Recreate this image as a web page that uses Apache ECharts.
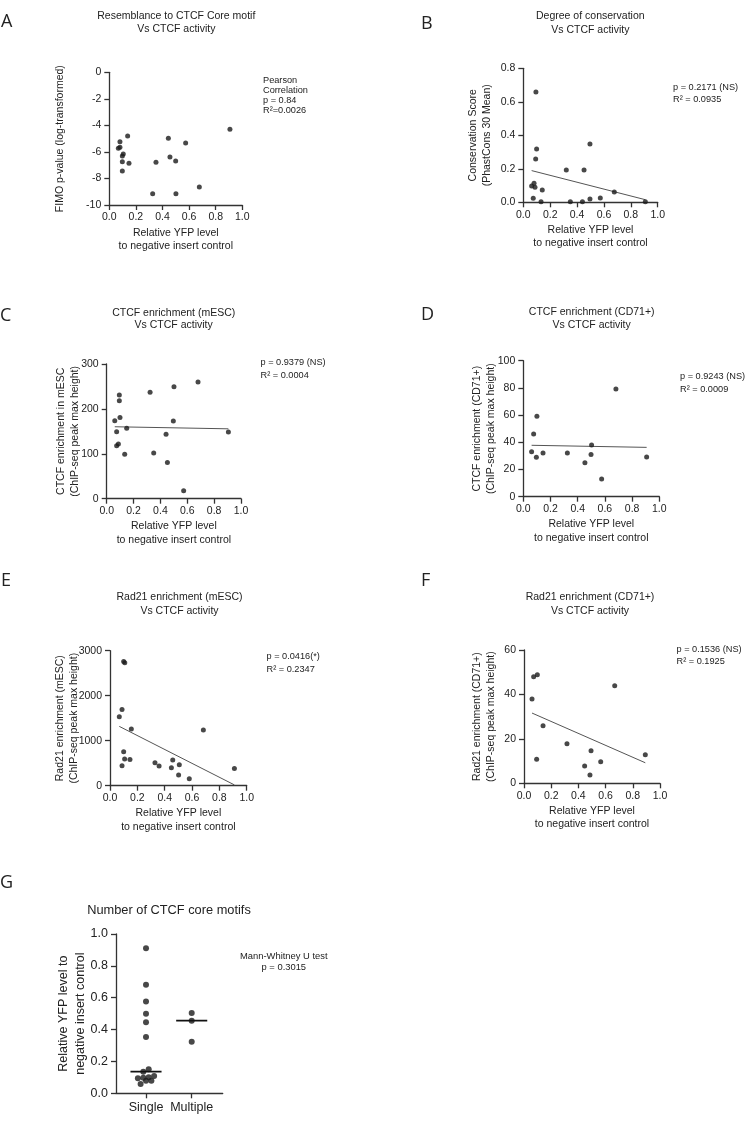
<!DOCTYPE html>
<html><head><meta charset="utf-8">
<script src="https://cdn.jsdelivr.net/npm/echarts@6/dist/echarts.min.js"></script>
<style>html,body{margin:0;padding:0;background:#fff}#c{width:753px;height:1126px}</style>
</head><body><div id="c"></div>
<script>
// ---------- data ----------
const xA = [0.068,0.080,0.080,0.105,0.098,0.098,0.098,0.138,0.148,0.326,0.351,0.444,0.456,0.499,0.501,0.574,0.677,0.907];
const yA = [-5.73,-5.23,-5.65,-6.16,-6.31,-6.74,-7.44,-4.80,-6.86,-9.15,-6.78,-4.97,-6.38,-6.68,-9.15,-5.33,-8.64,-4.30];

const xB = [0.062,0.080,0.087,0.141,0.074,0.132,0.094,0.092,0.099,0.320,0.350,0.440,0.452,0.496,0.496,0.573,0.677,0.908];
const yB = [0.097,0.113,0.090,0.073,0.024,0.004,0.659,0.259,0.318,0.193,0.004,0.004,0.193,0.348,0.020,0.026,0.062,0.004];

const xC = [0.094,0.094,0.099,0.060,0.149,0.074,0.087,0.074,0.134,0.323,0.350,0.442,0.452,0.501,0.496,0.573,0.680,0.906];
const yC = [231,218,181,173.7,156.8,149,121.8,118,98.8,236.9,101.7,143.3,80.9,249.5,173,17.8,259.9,148.5];

const xD = [0.061,0.076,0.096,0.100,0.145,0.324,0.453,0.498,0.502,0.576,0.681,0.907];
const yD = [33.1,46.1,29.0,59.1,32.1,32.1,25.0,31.1,38.0,13.0,79.2,29.2];

const xE = [0.068,0.088,0.100,0.108,0.088,0.100,0.107,0.146,0.156,0.329,0.359,0.449,0.459,0.502,0.507,0.580,0.683,0.910];
const yE = [1533,1696,2760,2730,444,756,593,585,1259,511,437,400,570,237,467,156,1237,385];

const xF = [0.059,0.071,0.098,0.093,0.140,0.316,0.446,0.485,0.493,0.564,0.667,0.892];
const yF = [37.95,48.0,48.9,10.8,25.95,17.85,7.8,3.75,14.7,9.75,43.95,12.9];

const gCategories = ['Single', 'Multiple'];
const gSingle = [0.910,0.682,0.577,0.500,0.446,0.354,0.151,0.136,0.109,0.100,0.098,0.094,0.079,0.079,0.058];
const gMultiple = [0.504,0.456,0.324];

const xTitle = 'Relative YFP level\nto negative insert control';

// ---------- helpers ----------
const FONT = '"Liberation Sans", Arial, Helvetica, sans-serif';
const INK = '#222';
const AXIS = '#333';

function linreg(xs, ys) {
  const n = xs.length;
  const mx = xs.reduce((a, b) => a + b, 0) / n;
  const my = ys.reduce((a, b) => a + b, 0) / n;
  let sxy = 0, sxx = 0;
  for (let i = 0; i < n; i++) { sxy += (xs[i] - mx) * (ys[i] - my); sxx += (xs[i] - mx) ** 2; }
  const b = sxy / sxx, a = my - b * mx;
  const lo = Math.min(...xs), hi = Math.max(...xs);
  return [[lo, a + b * lo], [hi, a + b * hi]];
}
function median(v) {
  const s = [...v].sort((a, b) => a - b), m = Math.floor(s.length / 2);
  return s.length % 2 ? s[m] : (s[m - 1] + s[m]) / 2;
}

const panels = [
  { x: xA, y: yA, grid: { left: 109.3, top: 72.3, width: 133, height: 132.7 }, yMin: -10, yMax: 0, yInt: 2, yFmt: v => String(v), yName: 'FIMO p-value (log-transformed)', yGap: 42, fit: false },
  { x: xB, y: yB, grid: { left: 523.3, top: 68.3, width: 134.4, height: 134 }, yMin: 0, yMax: 0.8, yInt: 0.2, yFmt: v => v.toFixed(1), yName: 'Conservation Score\n(PhastCons 30 Mean)', yGap: 29, fit: true },
  { x: xC, y: yC, grid: { left: 106.7, top: 364, width: 134.3, height: 134.7 }, yMin: 0, yMax: 300, yInt: 100, yFmt: v => String(v), yName: 'CTCF enrichment in mESC\n(ChIP-seq peak max height)', yGap: 25, fit: true },
  { x: xD, y: yD, grid: { left: 523.3, top: 360.7, width: 136, height: 136 }, yMin: 0, yMax: 100, yInt: 20, yFmt: v => String(v), yName: 'CTCF enrichment (CD71+)\n(ChIP-seq peak max height)', yGap: 25.5, fit: true },
  { x: xE, y: yE, grid: { left: 110, top: 650.7, width: 136.7, height: 135 }, yMin: 0, yMax: 3000, yInt: 1000, yFmt: v => String(v), yName: 'Rad21 enrichment (mESC)\n(ChIP-seq peak max height)', yGap: 29, fit: true },
  { x: xF, y: yF, grid: { left: 524, top: 650, width: 136, height: 133.3 }, yMin: 0, yMax: 60, yInt: 20, yFmt: v => String(v), yName: 'Rad21 enrichment (CD71+)\n(ChIP-seq peak max height)', yGap: 25.5, fit: true }
];

const grids = [], xAxes = [], yAxes = [], series = [];
const axisLineStyle = { color: AXIS, width: 1.3 };

panels.forEach((p, i) => {
  grids.push(Object.assign({ containLabel: false }, p.grid));
  xAxes.push({
    gridIndex: i, type: 'value', min: 0, max: 1, interval: 0.2,
    axisLine: { show: true, onZero: false, lineStyle: axisLineStyle },
    axisTick: { show: true, length: 5, lineStyle: axisLineStyle },
    axisLabel: { color: INK, fontSize: 10.5, fontFamily: FONT, margin: 7, formatter: v => v.toFixed(1) },
    splitLine: { show: false },
    name: xTitle, nameLocation: 'middle', nameGap: 21, nameMoveOverlap: false,
    nameTextStyle: { color: INK, fontSize: 10.5, fontFamily: FONT, lineHeight: 13.4 }
  });
  yAxes.push({
    gridIndex: i, type: 'value', min: p.yMin, max: p.yMax, interval: p.yInt,
    axisLine: { show: true, onZero: false, lineStyle: axisLineStyle },
    axisTick: { show: true, length: 5, lineStyle: axisLineStyle },
    axisLabel: { color: INK, fontSize: 10.5, fontFamily: FONT, margin: 8, formatter: p.yFmt },
    splitLine: { show: false },
    name: p.yName, nameLocation: 'middle', nameGap: p.yGap, nameRotate: 90, nameMoveOverlap: false,
    nameTextStyle: { color: INK, fontSize: 10.5, fontFamily: FONT, lineHeight: 14 }
  });
  series.push({
    type: 'scatter', xAxisIndex: i, yAxisIndex: i, symbolSize: 5,
    itemStyle: { color: '#1a1a1a' }, silent: true, z: 3,
    data: p.x.map((v, k) => [v, p.y[k]])
  });
  if (p.fit) {
    series.push({
      type: 'line', xAxisIndex: i, yAxisIndex: i, symbol: 'none', silent: true, z: 2,
      lineStyle: { color: '#555', width: 1 }, data: linreg(p.x, p.y)
    });
  }
});

// ---------- panel G ----------
const gi = panels.length;
const gGrid = { left: 116, top: 934, width: 106.7, height: 159.3 };
const gMin = 0.3435, gMax = 2.678;
grids.push(gGrid);
const pxPerX = gGrid.width / (gMax - gMin), pxPerY = gGrid.height / 1;

function swarm(values, center, dotPx) {
  const idx = values.map((v, k) => k).sort((a, b) => values[a] - values[b]);
  const out = [];
  let row = [];
  const flush = () => {
    row.forEach((k, j) => {
      const off = (j - (row.length - 1) / 2) * dotPx;
      out.push([center + off / pxPerX, values[k]]);
    });
    row = [];
  };
  idx.forEach(k => {
    if (row.length && (values[k] - values[row[0]]) * pxPerY >= dotPx) flush();
    row.push(k);
  });
  flush();
  return out;
}

xAxes.push({
  gridIndex: gi, type: 'value', min: gMin, max: gMax,
  axisLine: { show: true, onZero: false, lineStyle: axisLineStyle },
  axisTick: { show: true, length: 5, lineStyle: axisLineStyle, customValues: [1, 2] },
  axisLabel: { color: INK, fontSize: 12.5, fontFamily: FONT, margin: 8, customValues: [1, 2], formatter: v => gCategories[Math.round(v) - 1] || '' },
  splitLine: { show: false }
});
yAxes.push({
  gridIndex: gi, type: 'value', min: 0, max: 1, interval: 0.2,
  axisLine: { show: true, onZero: false, lineStyle: axisLineStyle },
  axisTick: { show: true, length: 5, lineStyle: axisLineStyle },
  axisLabel: { color: INK, fontSize: 12.5, fontFamily: FONT, margin: 8, formatter: v => v.toFixed(1) },
  splitLine: { show: false },
  name: 'Relative YFP level to\nnegative insert control', nameLocation: 'middle', nameGap: 27.5, nameRotate: 90, nameMoveOverlap: false,
  nameTextStyle: { color: INK, fontSize: 12.5, fontFamily: FONT, lineHeight: 16.5 }
});
[gSingle, gMultiple].forEach((vals, c) => {
  series.push({
    type: 'scatter', xAxisIndex: gi, yAxisIndex: gi, symbolSize: 6, silent: true, z: 3,
    itemStyle: { color: '#1a1a1a' }, data: swarm(vals, c + 1, 5.4)
  });
  const m = median(vals);
  series.push({
    type: 'line', xAxisIndex: gi, yAxisIndex: gi, symbol: 'none', silent: true, z: 4,
    lineStyle: { color: '#111', width: 1.6 }, data: [[c + 1 - 0.34, m], [c + 1 + 0.34, m]]
  });
});

// ---------- texts ----------
function txt(x, y, text, size, align, family, extra) {
  return Object.assign({
    type: 'text', x, y, silent: true,
    style: { text, font: size + 'px ' + (family || FONT), fill: INK, textAlign: align || 'left', textVerticalAlign: 'middle' }
  }, extra || {});
}
const TS = 10.5, AS = 9.2;
const LET = '"Open Sans", "Noto Sans", sans-serif';
const graphics = [
  txt(1, 21.5, 'A', 18, 'left', LET),
  txt(421, 24, 'B', 18, 'left', LET),
  txt(0, 315.5, 'C', 18, 'left', LET),
  txt(421, 315, 'D', 18, 'left', LET),
  txt(1, 580.5, 'E', 18, 'left', LET),
  txt(421, 580.5, 'F', 18, 'left', LET),
  txt(0, 883, 'G', 18, 'left', LET),

  txt(176.3, 15.7, 'Resemblance to CTCF Core motif', TS, 'center'),
  txt(176.3, 29.3, 'Vs CTCF activity', TS, 'center'),
  txt(590.3, 16, 'Degree of conservation', TS, 'center'),
  txt(590.3, 30, 'Vs CTCF activity', TS, 'center'),
  txt(173.7, 312.7, 'CTCF enrichment (mESC)', TS, 'center'),
  txt(173.7, 325, 'Vs CTCF activity', TS, 'center'),
  txt(591.7, 311.7, 'CTCF enrichment (CD71+)', TS, 'center'),
  txt(591.7, 325, 'Vs CTCF activity', TS, 'center'),
  txt(179.5, 597.3, 'Rad21 enrichment (mESC)', TS, 'center'),
  txt(179.5, 611, 'Vs CTCF activity', TS, 'center'),
  txt(590, 597.3, 'Rad21 enrichment (CD71+)', TS, 'center'),
  txt(590, 611, 'Vs CTCF activity', TS, 'center'),
  txt(169, 910, 'Number of CTCF core motifs', 12.8, 'center'),

  txt(263, 80, 'Pearson', AS),
  txt(263, 90, 'Correlation', AS),
  txt(263, 100, 'p = 0.84', AS),
  txt(263, 110, 'R²=0.0026', AS),
  txt(673, 87.7, 'p = 0.2171 (NS)', AS),
  txt(673, 99.3, 'R² = 0.0935', AS),
  txt(260.5, 362.7, 'p = 0.9379 (NS)', AS),
  txt(260.5, 375, 'R² = 0.0004', AS),
  txt(680, 376, 'p = 0.9243 (NS)', AS),
  txt(680, 389, 'R² = 0.0009', AS),
  txt(266.5, 656.7, 'p = 0.0416(*)', AS),
  txt(266.5, 669.3, 'R² = 0.2347', AS),
  txt(676.5, 649.3, 'p = 0.1536 (NS)', AS),
  txt(676.5, 661.7, 'R² = 0.1925', AS),
  txt(283.8, 956.7, 'Mann-Whitney U test', 9.4, 'center'),
  txt(283.8, 967.7, 'p = 0.3015', 9.4, 'center')
];

const chart = echarts.init(document.getElementById('c'), null, { renderer: 'canvas' });
chart.setOption({
  animation: false,
  backgroundColor: '#fff',
  grid: grids, xAxis: xAxes, yAxis: yAxes, series,
  graphic: { elements: graphics }
});
</script></body></html>
